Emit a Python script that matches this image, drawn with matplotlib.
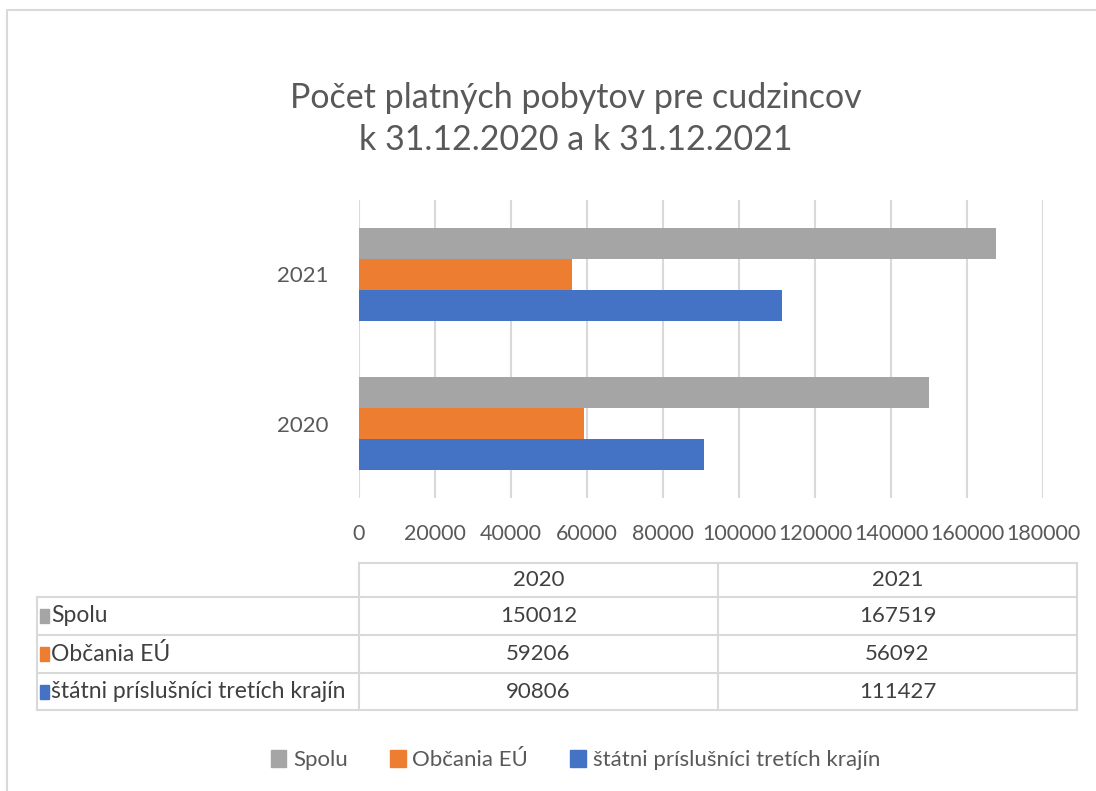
import numpy as np
import matplotlib.pyplot as plt
from matplotlib.patches import Patch

plt.rcParams['font.family'] = ['Lato', 'DejaVu Sans']

years = ['2020', '2021']
series = ['Spolu', 'Občania EÚ', 'štátni príslušníci tretích krajín']
spolu = [150012, 167519]
obcania = [59206, 56092]
statni = [90806, 111427]
colors = ['#a5a5a5', '#ed7d31', '#4472c4']
xticks = np.arange(0, 180001, 20000)

W, H = 1096, 791
fig = plt.figure(figsize=(W / 100, H / 100), dpi=100)

# background layer in pixel coordinates (frame + data table)
bg = fig.add_axes([0, 0, 1, 1], zorder=0)
bg.set_xlim(0, W)
bg.set_ylim(H, 0)
bg.axis('off')
grid_c = '#d9d9d9'
bg.plot([7, 7, W + 5], [H + 5, 10, 10], color=grid_c, lw=1.5)

# bar chart
ax = fig.add_axes([359 / W, 1 - 498 / H, (1043 - 359) / W, (498 - 200) / H], zorder=1)
ax.patch.set_alpha(0)
y = np.arange(len(years))
h = 0.207
vals = [spolu, obcania, statni]
for i, (name, v, c) in enumerate(zip(series, vals, colors)):
    ax.barh(y + (1 - i) * h, v, height=h, color=c, label=name, zorder=2)
ax.set_xlim(0, 180000)
ax.set_ylim(-0.5, 1.5)
ax.set_xticks(xticks)
ax.set_xticklabels([str(t) for t in xticks])
ax.set_yticks(y)
ax.set_yticklabels(years)
ax.grid(axis='x', color=grid_c, lw=1.5, zorder=0)
for s in ax.spines.values():
    s.set_visible(False)
ax.tick_params(axis='x', length=0, pad=19, labelsize=15.5, labelcolor='#595959')
ax.tick_params(axis='y', length=0, pad=22, labelsize=16, labelcolor='#595959')

fig.text(0.525, 1 - 98 / H, 'Počet platných pobytov pre cudzincov', ha='center', va='center',
         fontsize=24.5, color='#595959')
fig.text(0.525, 1 - 140 / H, 'k 31.12.2020 a k 31.12.2021', ha='center', va='center',
         fontsize=24.5, color='#595959')

# data table
col_x = [37, 359, 718, 1077]
row_y = [563, 597, 635, 673, 710]
bg.plot([col_x[1], col_x[3]], [row_y[0], row_y[0]], color=grid_c, lw=1.5)
for ry in row_y[1:]:
    bg.plot([col_x[0], col_x[3]], [ry, ry], color=grid_c, lw=1.5)
bg.plot([col_x[0], col_x[0]], [row_y[1], row_y[-1]], color=grid_c, lw=1.5)
for cx in col_x[1:]:
    bg.plot([cx, cx], [row_y[0], row_y[-1]], color=grid_c, lw=1.5)
tc = '#404040'
for j, yr in enumerate(years):
    bg.text((col_x[j + 1] + col_x[j + 2]) / 2, (row_y[0] + row_y[1]) / 2, yr,
            ha='center', va='center', fontsize=16, color=tc)
for i, (name, v, c) in enumerate(zip(series, vals, colors)):
    yc = (row_y[i + 1] + row_y[i + 2]) / 2
    bg.add_patch(plt.Rectangle((40, yc - 7), 9, 14, color=c))
    bg.text(51, yc, name, ha='left', va='center', fontsize=16.5, color=tc)
    for j in range(len(years)):
        bg.text((col_x[j + 1] + col_x[j + 2]) / 2, yc, str(v[j]),
                ha='center', va='center', fontsize=16, color=tc)

handles = [Patch(color=c, label=n) for n, c in zip(series, colors)]
fig.legend(handles=handles, loc='center', bbox_to_anchor=(0.525, 1 - 760 / H), ncol=3,
           frameon=False, fontsize=16, handlelength=0.7, handleheight=0.8,
           handletextpad=0.3, columnspacing=1.9, labelcolor='#595959')

fig.savefig('out.png', dpi=100)
